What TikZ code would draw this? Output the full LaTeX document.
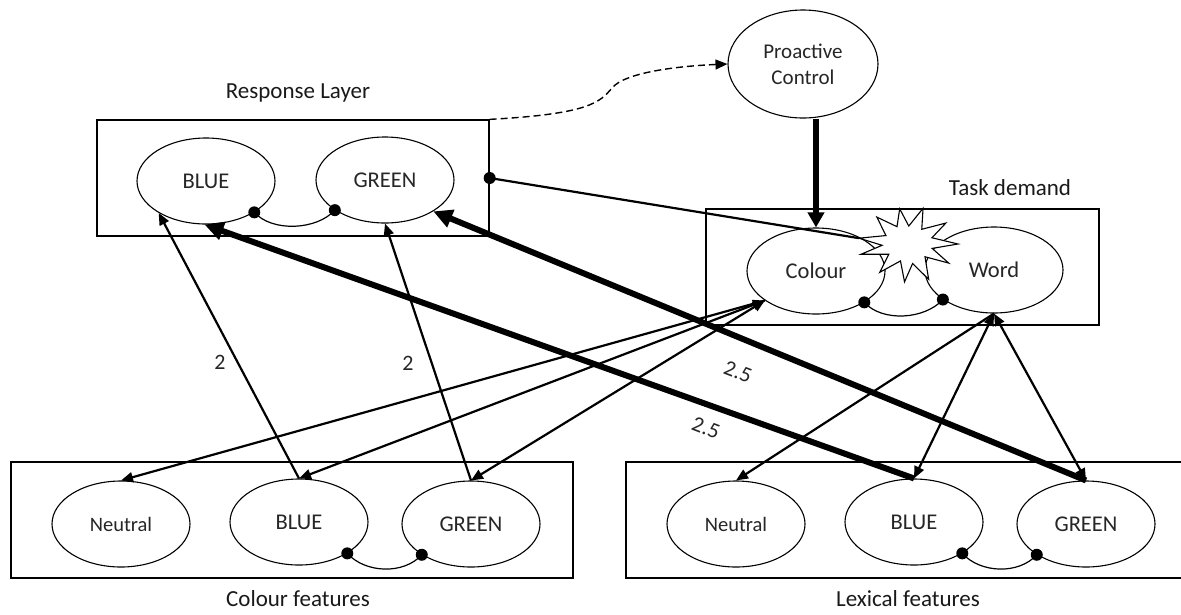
\documentclass[tikz,border=0pt]{standalone}
\usepackage{fontspec}
\setmainfont{Carlito}
\usetikzlibrary{arrows.meta,shapes.geometric,calc}

\begin{document}
\begin{tikzpicture}[x=1pt,y=-1pt,
  unit/.style={ellipse, draw, line width=1.1pt, minimum width=138pt, minimum height=86pt,
    inner sep=0pt, fill=white, text=black!85, font=\fontsize{22.5}{26}\selectfont},
  layer/.style={draw, line width=1.3pt, inner sep=0pt},
  caption/.style={text=black!90, font=\fontsize{23}{27}\selectfont},
  weight/.style={text=black!85, font=\fontsize{22}{26}\selectfont},
  link/.style={line width=2.2pt, -{Triangle[length=12pt,width=10pt]}},
  duallink/.style={line width=2.2pt, {Triangle[length=12pt,width=10pt]}-{Triangle[length=12pt,width=10pt]}},
  biglink/.style={line width=6pt, -{Triangle[length=19pt,width=18pt]}},
  inhib/.style={line width=1.2pt},
  knob/.style={circle, fill=black, inner sep=0pt, minimum size=12pt},
]
\useasboundingbox (0,0) rectangle (1181,614);

% layer frames
\node[layer, minimum width=392pt, minimum height=116pt] (rbox) at (293,178) {};
\node[layer, minimum width=393pt, minimum height=116pt] (tbox) at (902.5,267) {};
\node[layer, minimum width=562pt, minimum height=116pt] (cbox) at (292,520) {};
\draw[line width=1.3pt] (1190,462) -- (626,462) -- (626,578) -- (1190,578);

% captions
\node[caption] (rcap) at (298,93) {Response Layer};
\node[caption] (tcap) at (1010,188) {Task demand};
\node[caption] (ccap) at (298,599) {Colour features};
\node[caption] (lcap) at (908,599) {Lexical features};

% units
\node[unit, minimum width=150pt, minimum height=108pt, align=center,
      font=\fontsize{21}{26}\selectfont] (pc) at (803,64) {Proactive\\Control};
\node[unit] (rB) at (206,181) {BLUE};
\node[unit] (rG) at (385,180) {GREEN};
\node[unit] (col) at (816,271) {Colour};
\node[unit] (wrd) at (994,270) {Word};
\node[unit, font=\fontsize{20.5}{24}\selectfont] (cN) at (121,524) {Neutral};
\node[unit] (cB) at (299,522) {BLUE};
\node[unit] (cG) at (471,524) {GREEN};
\node[unit, font=\fontsize{20.5}{24}\selectfont] (lN) at (736,524) {Neutral};
\node[unit] (lB) at (914,522) {BLUE};
\node[unit] (lG) at (1086,524) {GREEN};

% conflict burst between the two task units
\begin{scope}[shift={(908,244)}]
\draw[line width=1.1pt, fill=white]
  (0:50 and 30) -- (15:25 and 17) -- (32:48 and 36) -- (45:24 and 18)
  -- (62:44 and 40) -- (78:22 and 20) -- (95:40 and 38) -- (110:22 and 18)
  -- (128:46 and 36) -- (143:24 and 17) -- (160:50 and 30) -- (175:26 and 15)
  -- (192:50 and 28) coordinate (tip) -- (208:25 and 18) -- (225:44 and 38)
  -- (240:22 and 20) -- (258:40 and 36) -- (272:22 and 18) -- (290:44 and 38)
  -- (305:24 and 18) -- (322:48 and 34) -- (337:26 and 16) -- cycle;
\end{scope}

% mutual inhibition within layers
\draw[inhib] (rB.327) .. controls +(18,20) and +(-18,20) .. (rG.211);
\draw[inhib] (col.327) .. controls +(18,20) and +(-18,20) .. (wrd.210);
\draw[inhib] (cB.327) .. controls +(18,20) and +(-18,20) .. (cG.212);
\draw[inhib] (lB.327) .. controls +(18,20) and +(-18,20) .. (lG.212);
\node[knob] (k1) at (rB.327) {};
\node[knob] (k2) at (rG.211) {};
\node[knob] (k3) at (col.327) {};
\node[knob] (k4) at (wrd.210) {};
\node[knob] (k5) at (cB.327) {};
\node[knob] (k6) at (cG.212) {};
\node[knob] (k7) at (lB.327) {};
\node[knob] (k8) at (lG.212) {};

% conflict monitoring and control
\draw[line width=1.4pt, dash pattern=on 7pt off 4pt, -{Triangle[length=12pt,width=10pt]}]
  (rbox.north east) .. controls (590,114) and (600,102) .. (612,88)
  .. controls (625,72) and (680,66) .. (pc.west);
\draw[line width=2.2pt] (rbox.east) -- (tip);
\node[knob] (k0) at (rbox.east) {};
\draw[line width=6pt, -{Triangle[length=15pt,width=16pt]}] (pc.south -| col.north) -- (col.north);

% task demand to feature layers
\draw[link] (col.210) -- (cN.north);
\draw[duallink] (col.210) -- (cB.north);
\draw[duallink] (col.210) -- (cG.north);
\draw[link] (wrd.south) -- (lN.north);
\draw[duallink] (wrd.south) -- (lB.north);
\draw[duallink] (wrd.south) -- (lG.north);

% feature layers to response layer
\draw[link] (cB.north) -- (rB.214);
\draw[link] (cG.north) -- (rG.270);
\draw[biglink] (lB.north) -- (rB.268);
\draw[biglink] (lG.north) -- (rG.327);

% connection weights
\node[weight] (w1) at (220,362) {2};
\node[weight] (w2) at (408,363) {2};
\node[weight, rotate=-21] (w3) at (738,372) {2.5};
\node[weight, rotate=-21] (w4) at (706,428) {2.5};
\end{tikzpicture}
\end{document}
